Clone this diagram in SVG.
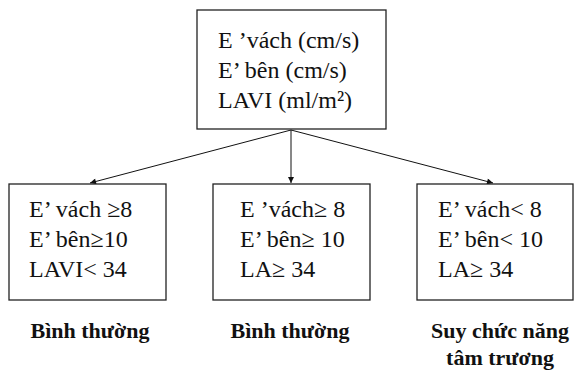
<svg xmlns="http://www.w3.org/2000/svg" width="574" height="374" viewBox="0 0 574 374">
<style>
.box{fill:#fff;stroke:#222;stroke-width:1.3}
.t{font-family:"Liberation Serif","DejaVu Serif",serif;font-size:24px;fill:#111}
.lb{font-family:"Liberation Serif","DejaVu Serif",serif;font-size:22px;font-weight:bold;fill:#111;text-anchor:middle}
.c{stroke:#111;stroke-width:1;fill:none;marker-end:url(#ah)}
</style>
<defs>
<marker id="ah" viewBox="0 0 10 10" refX="10" refY="5" markerWidth="7" markerHeight="6" orient="auto" markerUnits="userSpaceOnUse">
<path d="M0,0 L10,5 L0,10 z" fill="#111"/>
</marker>
</defs>
<g id="connectors">
<path class="c" d="M291,130 L90,183"/>
<path class="c" d="M291,130 L291,183"/>
<path class="c" d="M291,130 L493,183"/>
</g>
<g id="top">
<rect class="box" x="197" y="10" width="189" height="119"/>
<text class="t" x="218" y="48">E ’vách (cm/s)</text>
<text class="t" x="218" y="78">E’ bên (cm/s)</text>
<text class="t" x="218" y="108">LAVI (ml/m²)</text>
</g>
<g id="box1">
<rect class="box" x="9" y="184" width="157" height="116"/>
<text class="t" x="29" y="217">E’ vách ≥8</text>
<text class="t" x="29" y="247">E’ bên≥10</text>
<text class="t" x="29" y="277">LAVI&lt; 34</text>
</g>
<g id="box2">
<rect class="box" x="213" y="184" width="157" height="116"/>
<text class="t" x="240" y="217">E ’vách≥ 8</text>
<text class="t" x="240" y="247">E’ bên≥ 10</text>
<text class="t" x="240" y="277">LA≥ 34</text>
</g>
<g id="box3">
<rect class="box" x="417" y="184" width="156" height="116"/>
<text class="t" x="438" y="217">E’ vách&lt; 8</text>
<text class="t" x="438" y="247">E’ bên&lt; 10</text>
<text class="t" x="438" y="277">LA≥ 34</text>
</g>
<g id="labels">
<text class="lb" x="90" y="338">Bình thường</text>
<text class="lb" x="290" y="338">Bình thường</text>
<text class="lb" x="500" y="338">Suy chức năng</text>
<text class="lb" x="500" y="365">tâm trương</text>
</g>
</svg>
